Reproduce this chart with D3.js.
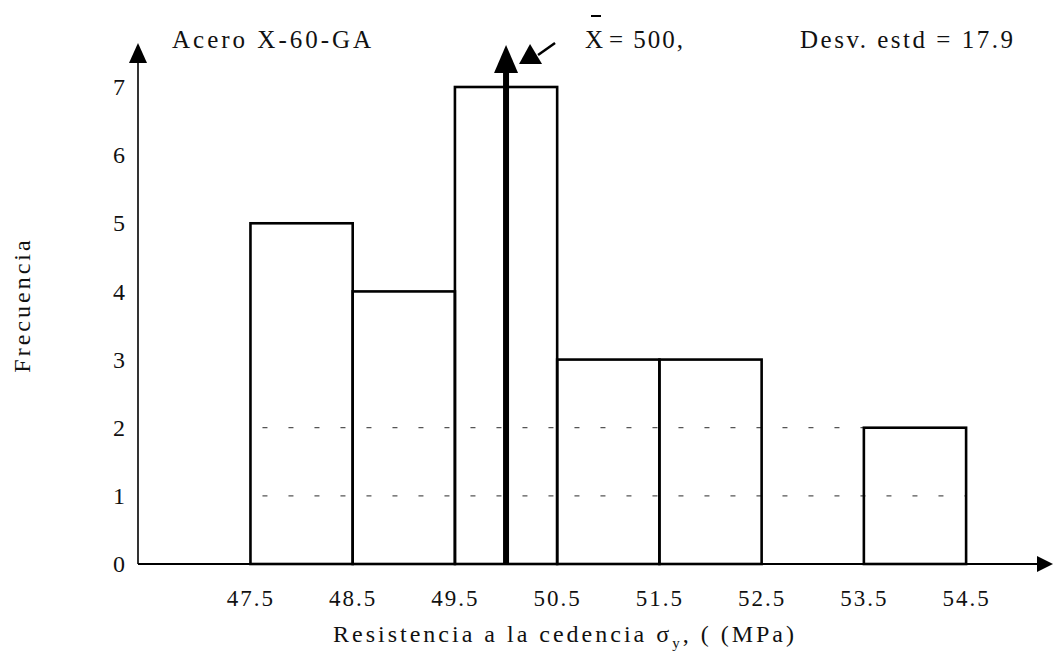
<!DOCTYPE html>
<html lang="es">
<head>
<meta charset="utf-8" />
<title>Histograma Acero X-60-GA</title>
<style>
  body { margin: 0; background: #fff; }
  text { font-family: "Liberation Serif", "Times New Roman", serif; fill: #111; }
</style>
<script src="https://d3js.org/d3.v7.min.js"></script>
</head>
<body>
<script>

// values
const binEdges   = [47.5, 48.5, 49.5, 50.5, 51.5, 52.5, 53.5, 54.5];
const counts     = [5, 4, 7, 3, 3, 0, 2];
const yTicks     = [0, 1, 2, 3, 4, 5, 6, 7];
const gridLevels = [1, 2];
const meanValue  = 50.0;
const titleText  = "Acero X-60-GA";
const meanText   = "= 500,";
const stdText    = "Desv. estd = 17.9";
const xTitle     = "Resistencia a la cedencia σ";
const yTitle     = "Frecuencia";

const W = 1058, H = 660;
const margin = {top: 87, right: 5, bottom: 96, left: 138},
    width  = W - margin.left - margin.right,
    height = H - margin.top - margin.bottom;

const root = d3.select("body").append("svg")
    .attr("width", W)
    .attr("height", H);

const svg = root.append("g")
    .attr("transform", `translate(${margin.left},${margin.top})`);

// x runs from the y axis to the arrow tip
const x = d3.scaleLinear()
    .domain([46.4, 55.35])
    .range([0, width]);

const y = d3.scaleLinear()
    .domain([0, d3.max(counts)])
    .range([height, 0]);

// faint dashed grid (mostly lost in the scan)
svg.selectAll(".grid")
  .data(gridLevels)
  .join("line")
    .attr("class", "grid")
    .attr("x1", x(binEdges[0]) + 12)
    .attr("x2", x(binEdges[binEdges.length - 1]))
    .attr("y1", d => y(d))
    .attr("y2", d => y(d))
    .attr("stroke", "#555")
    .attr("stroke-width", 1.2)
    .attr("stroke-dasharray", "5,21");

// bars
const bins = counts.map((n, i) => ({x0: binEdges[i], x1: binEdges[i + 1], n: n}))
  .filter(d => d.n > 0);

svg.selectAll(".bar")
  .data(bins)
  .join("rect")
    .attr("class", "bar")
    .attr("x", d => x(d.x0))
    .attr("y", d => y(d.n))
    .attr("width", d => x(d.x1) - x(d.x0))
    .attr("height", d => y(0) - y(d.n))
    .attr("fill", "none")
    .attr("stroke", "#000")
    .attr("stroke-width", 2.6);

// axes (labels via d3 axes, lines drawn with arrows)
const yAxis = svg.append("g")
    .call(d3.axisLeft(y).tickValues(yTicks).tickSize(0).tickPadding(13)
      .tickFormat(d3.format("d")));
yAxis.select(".domain").remove();
yAxis.selectAll("text")
    .style("font-family", '"Liberation Serif", serif')
    .style("font-size", "24px");

const xAxis = svg.append("g")
    .attr("transform", `translate(0,${height})`)
    .call(d3.axisBottom(x).tickValues(binEdges).tickSize(0).tickPadding(26)
      .tickFormat(d3.format(".1f")));
xAxis.select(".domain").remove();
xAxis.selectAll("text")
    .style("font-family", '"Liberation Serif", serif')
    .style("font-size", "23px")
    .attr("letter-spacing", "2px");

// y axis line + arrow
svg.append("line")
    .attr("x1", 0).attr("x2", 0)
    .attr("y1", height).attr("y2", -28)
    .attr("stroke", "#000").attr("stroke-width", 1.6);
svg.append("path")
    .attr("d", "M0,-44 L-9,-24 L9,-24 Z")
    .attr("fill", "#000");

// x axis line + arrow
svg.append("line")
    .attr("x1", 0).attr("x2", width - 10)
    .attr("y1", height).attr("y2", height)
    .attr("stroke", "#000").attr("stroke-width", 2);
svg.append("path")
    .attr("d", `M${width},${height} L${width - 16},${height - 8} L${width - 16},${height + 8} Z`)
    .attr("fill", "#000");

// mean line with arrow
const mx = x(meanValue);
svg.append("line")
    .attr("x1", mx).attr("x2", mx)
    .attr("y1", height).attr("y2", -16)
    .attr("stroke", "#000").attr("stroke-width", 6);
svg.append("path")
    .attr("d", `M${mx},-42 L${mx - 12},-14 L${mx + 12},-14 Z`)
    .attr("fill", "#000");
// pointer from the label
svg.append("path")
    .attr("d", `M${mx + 24},-43 L${mx + 13},-23 L${mx + 36},-23 Z`)
    .attr("fill", "#000");
svg.append("line")
    .attr("x1", mx + 32).attr("y1", -32)
    .attr("x2", mx + 49).attr("y2", -44)
    .attr("stroke", "#000").attr("stroke-width", 2.5);

// header texts
root.append("text")
    .attr("x", 172).attr("y", 48)
    .attr("font-size", 25)
    .attr("letter-spacing", "3px")
    .text(titleText);

root.append("text")
    .attr("x", 585).attr("y", 48)
    .attr("font-size", 25)
    .text("X");
root.append("line")
    .attr("x1", 591).attr("x2", 601)
    .attr("y1", 16).attr("y2", 16)
    .attr("stroke", "#000").attr("stroke-width", 2);
root.append("text")
    .attr("x", 609).attr("y", 48)
    .attr("font-size", 25)
    .attr("letter-spacing", "2px")
    .text(meanText);

root.append("text")
    .attr("x", 800).attr("y", 48)
    .attr("font-size", 25)
    .attr("letter-spacing", "2.5px")
    .text(stdText);

// axis titles
const xt = root.append("text")
    .attr("x", 565).attr("y", 642)
    .attr("text-anchor", "middle")
    .attr("font-size", 24)
    .attr("letter-spacing", "3px");
xt.append("tspan").text(xTitle);
xt.append("tspan").attr("font-size", 15).attr("dy", 6).text("y");
xt.append("tspan").attr("dy", -6).text(", ( (MPa)");

root.append("text")
    .attr("transform", "translate(30,305) rotate(-90)")
    .attr("text-anchor", "middle")
    .attr("font-size", 24)
    .attr("letter-spacing", "3px")
    .text(yTitle);

</script>
</body>
</html>
